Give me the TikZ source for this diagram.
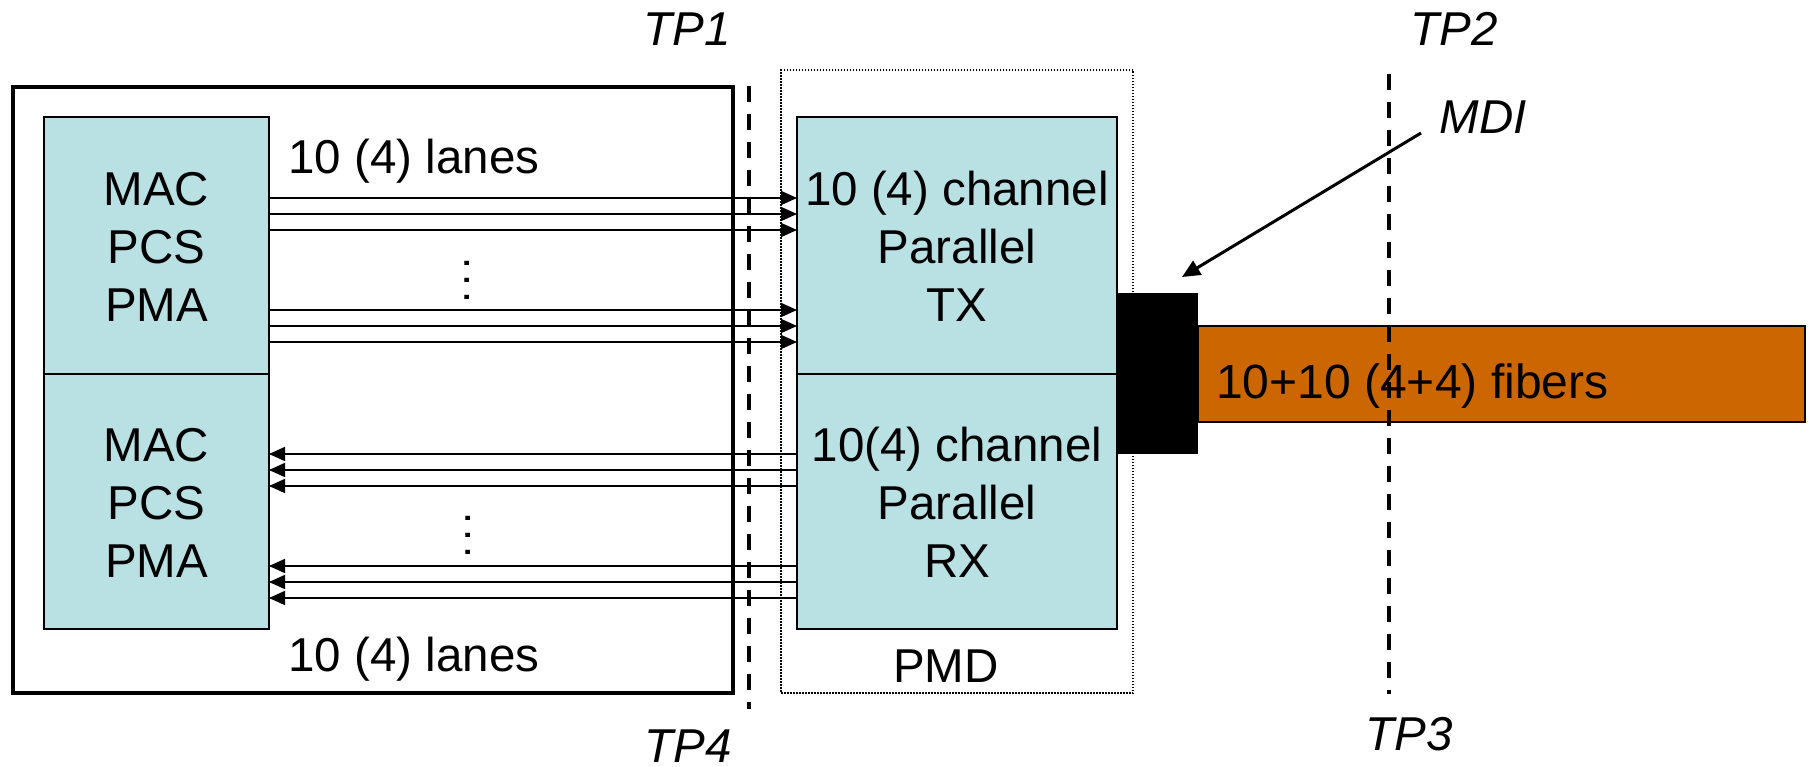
\documentclass[tikz,border=0pt]{standalone}
\usepackage{fontspec}
\setmainfont{Liberation Sans}
\usetikzlibrary{arrows.meta}
\definecolor{blockblue}{RGB}{185,224,227}
\definecolor{fiberorange}{RGB}{204,102,0}
\begin{document}
\begin{tikzpicture}[x=1pt,y=-1pt,
  lbl/.style={font=\fontsize{47.5}{58}\selectfont, inner sep=0pt, anchor=base},
  tplbl/.style={lbl, font=\fontsize{47.5}{58}\selectfont\itshape},
  block/.style={draw, line width=2pt, fill=blockblue, inner sep=0pt, outer sep=0pt, anchor=north west},
  lane/.style={line width=1.6pt, -{Triangle[length=16pt,width=14pt]}},
  tpline/.style={line width=4pt, dash pattern=on 16pt off 12pt},
  vdotstyle/.style={font=\fontsize{44}{50}\selectfont, inner sep=0pt, anchor=base, rotate=90},
]
\useasboundingbox (0,0) rectangle (1814,766);

% PMD enclosure (dotted) and host enclosure
\node[draw, line width=1.5pt, dash pattern=on 1.5pt off 1.5pt, minimum width=352pt, minimum height=623pt,
      inner sep=0pt, outer sep=0pt, anchor=north west] (pmd) at (781,70) {};
\node[draw, line width=4pt, minimum width=720pt, minimum height=606pt,
      inner sep=0pt, outer sep=0pt, anchor=north west] (host) at (13,87) {};

% functional blocks
\node[block, minimum width=225pt, minimum height=257pt] (macA) at (44,117) {};
\node[block, minimum width=225pt, minimum height=255pt] (macB) at (44,374) {};
\node[block, minimum width=320pt, minimum height=257pt] (tx) at (797,117) {};
\node[block, minimum width=320pt, minimum height=255pt] (rx) at (797,374) {};

% block texts
\node[lbl] (macA1) at (156.5,205.5) {MAC};
\node[lbl] (macA2) at (156.5,263.5) {PCS};
\node[lbl] (macA3) at (156.5,321.5) {PMA};
\node[lbl] (macB1) at (156.5,461.5) {MAC};
\node[lbl] (macB2) at (156.5,519.5) {PCS};
\node[lbl] (macB3) at (156.5,577.5) {PMA};
\node[lbl] (tx1) at (957,205.5) {10 (4) channel};
\node[lbl] (tx2) at (957,263.5) {Parallel};
\node[lbl] (tx3) at (957,321.5) {TX};
\node[lbl] (rx1) at (957,461.5) {10(4) channel};
\node[lbl] (rx2) at (957,519.5) {Parallel};
\node[lbl] (rx3) at (957,577.5) {RX};

\node[lbl] (lanesA) at (414,173.5) {10 (4) lanes};
\node[lbl] (lanesB) at (414,671) {10 (4) lanes};
\node[lbl] (pmdlbl) at (946,682) {PMD};

% transmit lanes
\foreach \y [count=\i] in {198,214,230,310,326,342} {
  \coordinate (tl\i) at (0,\y);
  \draw[lane] (macA.east |- tl\i) -- (tx.west |- tl\i);
}
% receive lanes
\foreach \y [count=\i] in {454,470,486,566,582,598} {
  \coordinate (bl\i) at (0,\y);
  \draw[lane] (rx.west |- bl\i) -- (macB.east |- bl\i);
}
% vertical ellipses between the lane groups
\node[vdotstyle] (dotsA) at (469.5,280) {.\kern4.8pt.\kern4.8pt.};
\node[vdotstyle] (dotsB) at (470.5,535) {.\kern4.8pt.\kern4.8pt.};

% fiber and MDI connector
\node[draw, line width=1.5pt, fill=fiberorange, minimum width=607pt, minimum height=96pt,
      inner sep=0pt, outer sep=0pt, anchor=north west] (fiber) at (1198,326) {};
\node[fill=black, minimum width=81pt, minimum height=161pt,
      inner sep=0pt, outer sep=0pt, anchor=north west] (mdiblk) at (1117,293) {};
\node[lbl, font=\fontsize{48}{58}\selectfont, anchor=base west] (fibertxt) at (1216,398) {10+10 (4+4) fibers};

% test points
\coordinate (tp1top) at (749,86);
\coordinate (tp1bot) at (749,709);
\draw[tpline] (tp1top) -- (tp1bot);
\coordinate (tp2top) at (1389,74);
\coordinate (tp2bot) at (1389,694);
\draw[tpline] (tp2top) -- (tp2bot);

\node[tplbl] (tp1) at (687,45) {TP1};
\node[tplbl] (tp2) at (1454,45) {TP2};
\node[tplbl] (tp3) at (1409,750) {TP3};
\node[tplbl] (tp4) at (688,762) {TP4};
\node[tplbl] (mdi) at (1483,133) {MDI};

% MDI pointer
\coordinate (mdifrom) at (1421,133);
\coordinate (mditip) at (1182,277);
\draw[line width=3pt, -{Triangle[length=18pt,width=16pt]}] (mdifrom) -- (mditip);
\end{tikzpicture}
\end{document}
